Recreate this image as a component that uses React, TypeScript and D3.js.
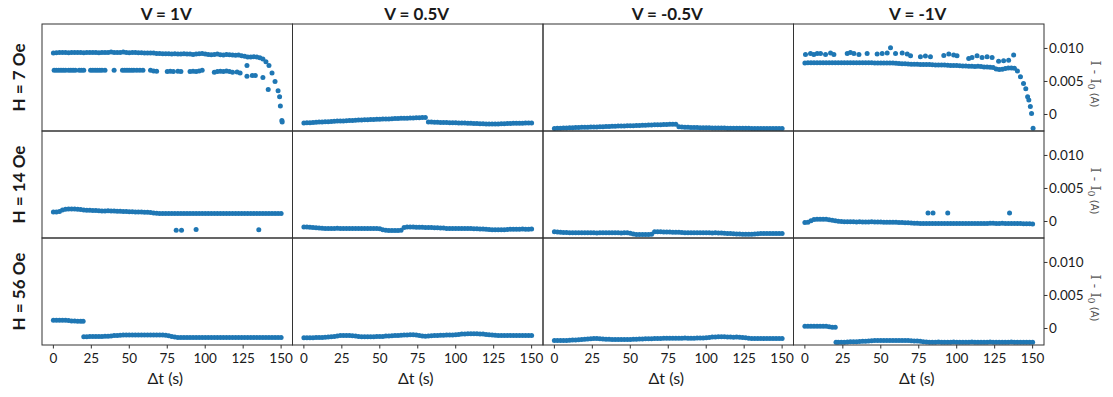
import React from 'react';
import * as d3 from 'd3';

// ---------- labels / ticks ----------
const COLUMN_TITLES = ['V = 1V', 'V = 0.5V', 'V = -0.5V', 'V = -1V'];
const ROW_TITLES = ['H = 7 Oe', 'H = 14 Oe', 'H = 56 Oe'];
const X_TICKS = [0, 25, 50, 75, 100, 125, 150];
const Y_TICKS = [0, 0.005, 0.01];
const X_DOMAIN = [-7.5, 157.5];
const Y_DOMAIN = [-0.0025, 0.0137];

// sampling times (s)
const TIMES = [
  0, 2, 4, 6, 8, 10, 12, 14, 16, 18,
  20, 22, 24, 26, 28, 30, 32, 34, 36, 38,
  40, 42, 44, 46, 48, 50, 52, 54, 56, 58,
  60, 62, 64, 66, 68, 70, 72, 74, 76, 78,
  80, 82, 84, 86, 88, 90, 92, 94, 96, 98,
  100, 102, 104, 106, 108, 110, 112, 114, 116, 118,
  120, 122, 124, 126, 128, 130, 132, 134, 136, 138,
  140, 142, 144, 146, 148, 150,
];

// ---------- values in mA (I - I0) ----------
// H = 7 Oe
const h7_v1 = [
  9.3, 9.35, 9.4, 9.4, 9.4, 9.35, 9.4, 9.4, 9.4, 9.4,
  9.35, 9.4, 9.4, 9.4, 9.4, 9.35, 9.4, 9.4, 9.4, 9.45,
  9.4, 9.4, 9.4, 9.45, 9.4, 9.35, 9.4, 9.4, 9.35, 9.35,
  9.3, 9.3, 9.3, 9.3, 9.25, 9.25, 9.2, 9.2, 9.2, 9.15,
  9.2, 9.15, 9.15, 9.2, 9.15, 9.15, 9.1, 9.15, 9.2, 9.25,
  9.15, 9.1, 9.05, 9.1, 9.15, 9.05, 9.0, 9.1, 9.05, 9.0,
  8.95, 9.0, 8.9, 8.8, 8.7, 8.7, 8.75, 8.7, 8.6, 8.4,
  8.0, 7.4, 6.3, 5.0, 3.6, null,
];
const h7_v1_extra: [number, number][] = [
  [0.5, 6.7], [2, 6.7], [3.5, 6.7], [5, 6.7], [6.5, 6.7], [8, 6.7], [10, 6.7], [11.5, 6.7],
  [13, 6.7], [14.5, 6.7], [17, 6.7], [18.5, 6.7], [20, 6.7],
  [24.5, 6.7], [26, 6.7], [27.5, 6.7], [29, 6.7], [30.5, 6.7], [32, 6.7], [34, 6.7],
  [40, 6.7],
  [45.5, 6.7], [47, 6.7], [48.5, 6.7], [50, 6.7], [51.5, 6.7], [53, 6.7], [55, 6.7], [57, 6.7], [59, 6.7],
  [64, 6.7], [66, 6.6], [68, 6.55],
  [75, 6.5], [77, 6.55], [79, 6.5], [82, 6.55], [84, 6.5],
  [90, 6.5], [92, 6.55], [94, 6.5], [96, 6.6], [98, 6.7],
  [106, 6.4], [108, 6.5], [110, 6.55], [112, 6.5], [114, 6.6], [116, 6.5], [118, 6.4], [121, 6.45], [123, 6.3],
  [127.5, 5.8], [127.5, 7.4], [131, 5.9], [133, 5.9], [138, 5.6], [141.5, 3.8],
  [149, 2.7], [149.5, 1.3], [150.5, -0.9], [150.7, -1.15],
];
const h7_v05 = [
  -1.27, -1.25, -1.24, -1.2, -1.19, -1.15, -1.13, -1.1, -1.09, -1.05,
  -1.03, -1.0, -0.99, -0.97, -0.96, -0.92, -0.9, -0.89, -0.85, -0.83,
  -0.8, -0.78, -0.77, -0.74, -0.72, -0.71, -0.7, -0.68, -0.67, -0.64,
  -0.62, -0.61, -0.58, -0.57, -0.56, -0.55, -0.53, -0.5, -0.49, -0.47,
  -0.46, -1.12, -1.14, -1.16, -1.17, -1.2, -1.22, -1.23, -1.24, -1.25,
  -1.26, -1.27, -1.28, -1.3, -1.32, -1.34, -1.35, -1.38, -1.4, -1.42,
  -1.43, -1.44, -1.45, -1.45, -1.44, -1.42, -1.4, -1.38, -1.36, -1.34,
  -1.33, -1.32, -1.31, -1.3, -1.3, -1.3,
];
const h7_v05_extra: [number, number][] = [];
const h7_vm05 = [
  -2.12, -2.1, -2.08, -2.06, -2.04, -2.02, -2.0, -1.98, -1.96, -1.94,
  -1.93, -1.92, -1.9, -1.89, -1.88, -1.87, -1.85, -1.83, -1.8, -1.78,
  -1.77, -1.76, -1.74, -1.73, -1.72, -1.71, -1.7, -1.68, -1.66, -1.64,
  -1.62, -1.6, -1.58, -1.56, -1.55, -1.54, -1.52, -1.5, -1.49, -1.48,
  -1.47, -1.85, -1.9, -1.92, -1.94, -1.96, -1.97, -1.98, -1.99, -2.0,
  -2.01, -2.02, -2.03, -2.04, -2.05, -2.06, -2.06, -2.07, -2.08, -2.08,
  -2.09, -2.09, -2.1, -2.1, -2.1, -2.11, -2.11, -2.11, -2.12, -2.12,
  -2.12, -2.12, -2.12, -2.12, -2.12, -2.12,
];
const h7_vm05_extra: [number, number][] = [];
const h7_vm1 = [
  7.8, 7.82, 7.82, 7.82, 7.82, 7.82, 7.82, 7.82, 7.82, 7.82,
  7.82, 7.82, 7.82, 7.82, 7.82, 7.82, 7.82, 7.82, 7.82, 7.82,
  7.82, 7.82, 7.82, 7.8, 7.8, 7.8, 7.8, 7.78, 7.78, 7.78,
  7.75, 7.72, 7.7, 7.68, 7.65, 7.62, 7.6, 7.6, 7.58, 7.55,
  7.55, 7.55, 7.52, 7.5, 7.5, 7.48, 7.5, 7.45, 7.42, 7.4,
  7.4, 7.38, 7.35, 7.35, 7.32, 7.3, 7.28, 7.3, 7.25, 7.2,
  7.2, 7.15, 7.1, 6.9, 6.8, 6.85, 6.95, 7.05, 7.05, 7.0,
  6.6, 5.7, 4.7, null, null, null,
];
const h7_vm1_extra: [number, number][] = [
  [0.4, 9.09], [3.7, 9.24], [5.9, 9.09], [8.1, 9.24], [10.3, 9.24], [13.6, 9.09], [16.9, 9.3], [19.1, 9.09],
  [27.9, 9.24], [30, 9.4], [32.3, 9.24], [35.6, 9.09], [41, 9.24], [47.6, 9.14], [50.9, 9.24], [54.2, 9.3],
  [56.4, 10.1], [59.7, 9.24], [64.1, 9.3], [67.4, 9.14], [69.6, 8.89], [76.1, 8.73], [79.4, 8.84], [82.7, 8.73],
  [91.5, 8.94], [94.8, 9.14], [98, 8.99], [100.2, 8.89], [107.9, 8.48], [110.1, 8.63], [113.4, 8.89],
  [116.7, 8.63], [120, 8.73], [123.3, 8.63], [127.6, 8.07], [130.9, 8.12], [134.2, 8.22], [137.5, 8.99],
  [145.5, 3.9], [146.7, 2.7], [147.5, 2.2], [148.5, 1.2], [149.3, 0.15], [150.3, -2.1],
];

// H = 14 Oe
const h14_v1 = [
  1.45, 1.45, 1.5, 1.75, 1.85, 1.9, 1.9, 1.88, 1.85, 1.8,
  1.75, 1.72, 1.7, 1.68, 1.65, 1.62, 1.6, 1.6, 1.62, 1.58,
  1.58, 1.55, 1.55, 1.52, 1.5, 1.48, 1.48, 1.45, 1.45, 1.42,
  1.4, 1.38, 1.35, 1.3, 1.25, 1.22, 1.22, 1.2, 1.2, 1.2,
  1.22, 1.2, 1.2, 1.2, 1.22, 1.2, 1.2, 1.2, 1.22, 1.2,
  1.2, 1.2, 1.22, 1.2, 1.2, 1.2, 1.22, 1.2, 1.2, 1.2,
  1.22, 1.2, 1.2, 1.2, 1.22, 1.2, 1.2, 1.2, 1.2, 1.2,
  1.2, 1.22, 1.2, 1.2, 1.2, 1.2,
];
const h14_v1_extra: [number, number][] = [[80.9, -1.32], [84.4, -1.32], [94, -1.2], [135.3, -1.25]];
const h14_v05 = [
  -0.82, -0.85, -0.88, -0.9, -0.95, -1.0, -1.02, -1.05, -1.05, -1.05,
  -1.05, -1.02, -1.05, -1.05, -1.08, -1.05, -1.05, -1.05, -1.05, -1.05,
  -1.05, -1.05, -1.05, -1.08, -1.05, -1.1, -1.25, -1.33, -1.35, -1.35,
  -1.35, -1.35, -1.32, -0.9, -0.85, -0.85, -0.85, -0.88, -0.88, -0.88,
  -0.9, -0.9, -0.92, -0.95, -0.95, -0.98, -1.0, -1.05, -1.05, -1.05,
  -1.05, -1.05, -1.08, -1.05, -1.05, -1.08, -1.1, -1.1, -1.12, -1.15,
  -1.18, -1.2, -1.25, -1.25, -1.25, -1.25, -1.25, -1.2, -1.18, -1.17,
  -1.17, -1.17, -1.15, -1.17, -1.17, -1.15,
];
const h14_v05_extra: [number, number][] = [];
const h14_vm05 = [
  -1.57, -1.6, -1.62, -1.65, -1.68, -1.7, -1.72, -1.72, -1.72, -1.72,
  -1.72, -1.7, -1.72, -1.72, -1.74, -1.72, -1.72, -1.72, -1.72, -1.72,
  -1.72, -1.72, -1.74, -1.72, -1.72, -1.78, -1.9, -1.97, -1.97, -1.97,
  -1.97, -1.97, -1.95, -1.57, -1.57, -1.57, -1.58, -1.6, -1.6, -1.62,
  -1.62, -1.64, -1.66, -1.7, -1.72, -1.72, -1.72, -1.72, -1.72, -1.72,
  -1.72, -1.72, -1.74, -1.72, -1.74, -1.75, -1.78, -1.8, -1.82, -1.85,
  -1.88, -1.9, -1.92, -1.92, -1.92, -1.92, -1.9, -1.85, -1.82, -1.82,
  -1.82, -1.82, -1.82, -1.82, -1.82, -1.82,
];
const h14_vm05_extra: [number, number][] = [];
const h14_vm1 = [
  -0.15, -0.12, 0.1, 0.3, 0.35, 0.35, 0.35, 0.32, 0.25, 0.2,
  0.12, 0.05, 0.0, -0.03, -0.05, -0.05, -0.05, -0.06, -0.05, -0.06,
  -0.06, -0.06, -0.05, -0.06, -0.08, -0.08, -0.1, -0.1, -0.1, -0.12,
  -0.12, -0.15, -0.15, -0.18, -0.2, -0.22, -0.25, -0.28, -0.3, -0.3,
  -0.3, -0.3, -0.32, -0.3, -0.3, -0.32, -0.3, -0.3, -0.3, -0.32,
  -0.3, -0.32, -0.3, -0.3, -0.3, -0.32, -0.3, -0.3, -0.3, -0.3,
  -0.3, -0.28, -0.28, -0.3, -0.3, -0.28, -0.3, -0.3, -0.32, -0.3,
  -0.3, -0.32, -0.34, -0.35, -0.36, -0.37,
];
const h14_vm1_extra: [number, number][] = [[81.1, 1.3], [84.4, 1.3], [94.1, 1.3], [134.8, 1.3]];

// H = 56 Oe
const h56_v1 = [
  1.26, 1.26, 1.26, 1.25, 1.25, 1.22, 1.15, 1.12, 1.1, 1.1,
  -1.26, -1.24, -1.22, -1.2, -1.2, -1.2, -1.2, -1.18, -1.16, -1.12,
  -1.08, -1.05, -1.02, -1.0, -1.0, -0.98, -0.98, -1.0, -0.98, -0.98,
  -0.98, -1.0, -1.0, -0.98, -1.0, -1.0, -1.0, -1.02, -1.1, -1.2,
  -1.3, -1.35, -1.36, -1.36, -1.35, -1.36, -1.36, -1.37, -1.36, -1.36,
  -1.36, -1.35, -1.36, -1.36, -1.36, -1.37, -1.36, -1.36, -1.35, -1.36,
  -1.36, -1.36, -1.37, -1.36, -1.36, -1.35, -1.36, -1.36, -1.36, -1.37,
  -1.36, -1.36, -1.35, -1.36, -1.36, -1.36,
];
const h56_v1_extra: [number, number][] = [[19.6, 1.1]];
const h56_v05 = [
  -1.41, -1.41, -1.4, -1.4, -1.38, -1.36, -1.35, -1.32, -1.3, -1.25,
  -1.2, -1.12, -1.06, -1.06, -1.06, -1.08, -1.1, -1.15, -1.2, -1.24,
  -1.26, -1.26, -1.26, -1.24, -1.22, -1.2, -1.2, -1.15, -1.12, -1.1,
  -1.08, -1.05, -1.02, -1.0, -0.98, -0.96, -0.96, -1.0, -1.08, -1.14,
  -1.16, -1.14, -1.1, -1.06, -1.06, -1.04, -1.02, -1.0, -1.0, -0.98,
  -0.95, -0.9, -0.85, -0.82, -0.8, -0.8, -0.78, -0.8, -0.82, -0.85,
  -0.92, -0.96, -1.0, -1.04, -1.06, -1.06, -1.06, -1.06, -1.07, -1.06,
  -1.06, -1.06, -1.08, -1.06, -1.06, -1.08,
];
const h56_v05_extra: [number, number][] = [];
const h56_vm05 = [
  -1.82, -1.82, -1.82, -1.8, -1.8, -1.78, -1.76, -1.74, -1.7, -1.65,
  -1.62, -1.58, -1.55, -1.52, -1.52, -1.55, -1.6, -1.62, -1.64, -1.66,
  -1.67, -1.67, -1.67, -1.66, -1.66, -1.66, -1.64, -1.62, -1.6, -1.58,
  -1.56, -1.55, -1.54, -1.52, -1.52, -1.5, -1.48, -1.47, -1.46, -1.46,
  -1.46, -1.46, -1.46, -1.45, -1.46, -1.46, -1.46, -1.45, -1.44, -1.44,
  -1.4, -1.35, -1.3, -1.28, -1.26, -1.26, -1.26, -1.27, -1.3, -1.32,
  -1.3, -1.32, -1.38, -1.42, -1.46, -1.5, -1.52, -1.52, -1.52, -1.52,
  -1.52, -1.52, -1.52, -1.52, -1.52, -1.52,
];
const h56_vm05_extra: [number, number][] = [];
const h56_vm1 = [
  0.35, 0.35, 0.35, 0.35, 0.35, 0.35, 0.35, 0.35, 0.28, 0.2,
  0.2, -2.07, -2.07, -2.07, -2.05, -2.02, -2.0, -2.0, -1.98, -1.95,
  -1.92, -1.9, -1.85, -1.82, -1.82, -1.82, -1.82, -1.82, -1.8, -1.8,
  -1.8, -1.8, -1.82, -1.82, -1.82, -1.85, -1.88, -1.9, -1.95, -2.0,
  -2.04, -2.07, -2.07, -2.07, -2.05, -2.07, -2.08, -2.07, -2.07, -2.05,
  -2.07, -2.07, -2.08, -2.07, -2.07, -2.05, -2.07, -2.07, -2.08, -2.07,
  -2.07, -2.05, -2.07, -2.07, -2.08, -2.07, -2.07, -2.07, -2.05, -2.07,
  -2.07, -2.08, -2.07, -2.07, -2.07, -2.07,
];
const h56_vm1_extra: [number, number][] = [[20.5, -2.07]];

const SERIES = [
  [h7_v1, h7_v05, h7_vm05, h7_vm1],
  [h14_v1, h14_v05, h14_vm05, h14_vm1],
  [h56_v1, h56_v05, h56_vm05, h56_vm1],
];
const EXTRAS = [
  [h7_v1_extra, h7_v05_extra, h7_vm05_extra, h7_vm1_extra],
  [h14_v1_extra, h14_v05_extra, h14_vm05_extra, h14_vm1_extra],
  [h56_v1_extra, h56_v05_extra, h56_vm05_extra, h56_vm1_extra],
];

// ---------- layout ----------
const WIDTH = 1113;
const HEIGHT = 397;
const LEFT = 42;
const TOP = 24;
const COL_W = 250.5;
const ROW_H = 107;
const BLUE = '#1f77b4';
const FONT = 'Lato, "Open Sans", sans-serif';
const TEXT = '#1a1a1a';

function fmtY(v: number) {
  return v === 0 ? '0' : d3.format('.3f')(v);
}

export default function App() {
  const nRows = ROW_TITLES.length;
  const nCols = COLUMN_TITLES.length;
  const bottom = TOP + nRows * ROW_H;
  const right = LEFT + nCols * COL_W;

  const panels: React.ReactNode[] = [];
  for (let r = 0; r < nRows; r++) {
    for (let c = 0; c < nCols; c++) {
      const x0 = LEFT + c * COL_W;
      const y0 = TOP + r * ROW_H;
      const x = d3.scaleLinear().domain(X_DOMAIN).range([x0, x0 + COL_W]);
      const y = d3.scaleLinear().domain(Y_DOMAIN).range([y0 + ROW_H, y0]);
      const pts: [number, number][] = [];
      SERIES[r][c].forEach((v, i) => {
        if (v !== null && v !== undefined) pts.push([TIMES[i], v as number]);
      });
      EXTRAS[r][c].forEach((p) => pts.push(p));
      const id = `clip-${r}-${c}`;
      panels.push(
        <g key={id}>
          <clipPath id={id}>
            <rect x={x0} y={y0} width={COL_W} height={ROW_H} />
          </clipPath>
          <g clipPath={`url(#${id})`}>
            {pts.map((p, i) => (
              <circle key={i} cx={x(p[0])} cy={y(p[1] / 1000)} r={2.5} fill={BLUE} />
            ))}
          </g>
        </g>
      );
    }
  }

  const frames: React.ReactNode[] = [];
  for (let r = 0; r < nRows; r++) {
    for (let c = 0; c < nCols; c++) {
      frames.push(
        <rect
          key={`f-${r}-${c}`}
          x={LEFT + c * COL_W}
          y={TOP + r * ROW_H}
          width={COL_W}
          height={ROW_H}
          fill="none"
          stroke="#333"
          strokeWidth={1}
        />
      );
    }
  }

  // bottom x axes
  const xAxes: React.ReactNode[] = [];
  for (let c = 0; c < nCols; c++) {
    const x0 = LEFT + c * COL_W;
    const x = d3.scaleLinear().domain(X_DOMAIN).range([x0, x0 + COL_W]);
    xAxes.push(
      <g key={`xa-${c}`}>
        {X_TICKS.map((t) => (
          <g key={t}>
            <line x1={x(t)} x2={x(t)} y1={bottom} y2={bottom + 3.5} stroke="#333" />
            <text x={x(t)} y={bottom + 18} textAnchor="middle" fontSize={13.5} fontFamily={FONT} fill={TEXT}>
              {t}
            </text>
          </g>
        ))}
        <text x={x0 + COL_W / 2 - 2} y={bottom + 39} textAnchor="middle" fontSize={16} fontFamily={FONT} fill={TEXT}>
          Δt (s)
        </text>
      </g>
    );
  }

  // right y axes
  const yAxes: React.ReactNode[] = [];
  for (let r = 0; r < nRows; r++) {
    const y0 = TOP + r * ROW_H;
    const y = d3.scaleLinear().domain(Y_DOMAIN).range([y0 + ROW_H, y0]);
    const lx = 1097;
    const ly = y0 + 60;
    yAxes.push(
      <g key={`ya-${r}`}>
        {Y_TICKS.map((t) => (
          <g key={t}>
            <line x1={right} x2={right + 3.5} y1={y(t)} y2={y(t)} stroke="#333" />
            <text x={right + 5} y={y(t)} dy="0.36em" fontSize={13.5} fontFamily={FONT} fill={TEXT}>
              {fmtY(t)}
            </text>
          </g>
        ))}
        <text
          transform={`translate(${lx},${ly}) rotate(90)`}
          textAnchor="middle"
          dy="0.35em"
          fill="#555"
        >
          <tspan fontFamily='"DejaVu Serif", serif' fontSize={13}>I - I</tspan>
          <tspan fontFamily='"DejaVu Serif", serif' fontSize={9.5} dy={3}>0</tspan>
          <tspan fontFamily='"DejaVu Sans", sans-serif' fontSize={10} dy={-3}> (A)</tspan>
        </text>
      </g>
    );
  }

  return (
    <svg
      width={WIDTH}
      height={HEIGHT}
      style={{ position: 'absolute', left: 0, top: 0, background: '#fff' }}
    >
      <rect x={0} y={0} width={WIDTH} height={HEIGHT} fill="#fff" />
      {panels}
      {frames}
      {xAxes}
      {yAxes}
      {COLUMN_TITLES.map((t, c) => (
        <text
          key={t}
          x={LEFT + c * COL_W + COL_W / 2 - 1}
          y={20}
          textAnchor="middle"
          fontSize={17}
          fontWeight={700}
          fontFamily={FONT}
          fill={TEXT}
        >
          {t}
        </text>
      ))}
      {ROW_TITLES.map((t, r) => (
        <text
          key={t}
          transform={`translate(19,${TOP + r * ROW_H + ROW_H / 2}) rotate(-90)`}
          textAnchor="middle"
          dy="0.36em"
          fontSize={17}
          fontWeight={700}
          fontFamily={FONT}
          fill={TEXT}
        >
          {t}
        </text>
      ))}
    </svg>
  );
}
